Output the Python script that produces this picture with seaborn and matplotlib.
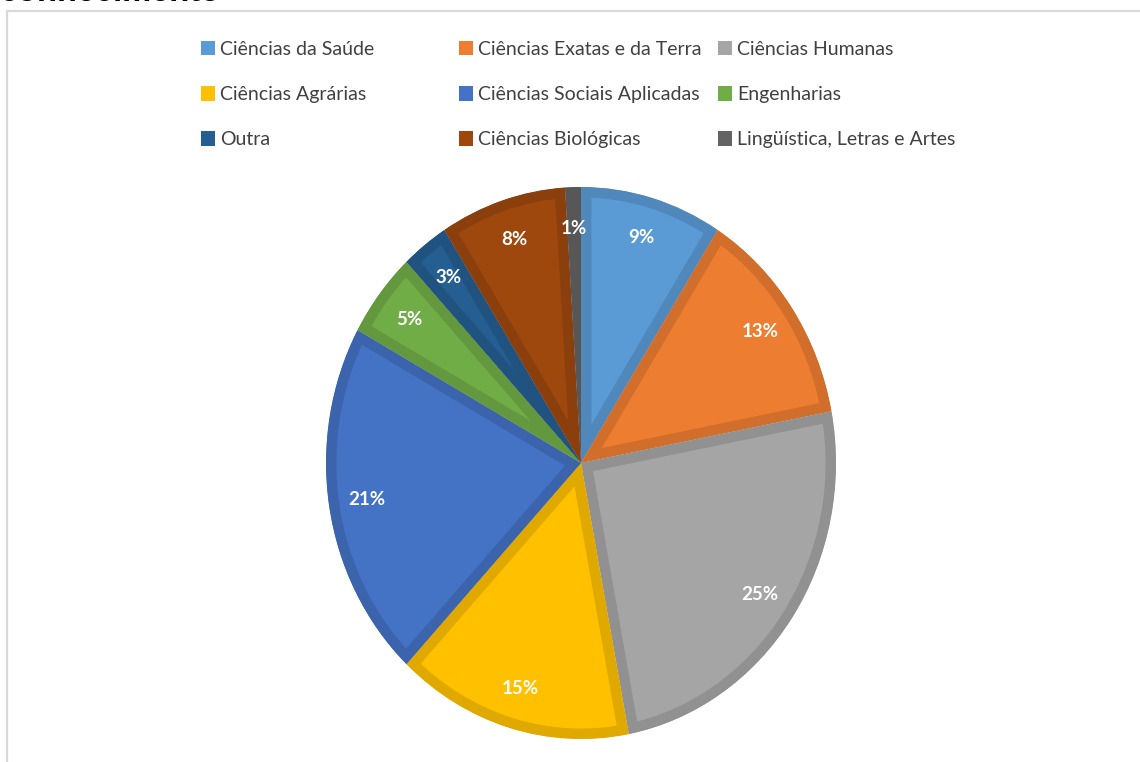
import numpy as np
import matplotlib.pyplot as plt
import matplotlib.colors as mcolors
from matplotlib.patches import Patch
import seaborn as sns

areas = ['Ciências da Saúde', 'Ciências Exatas e da Terra', 'Ciências Humanas',
         'Ciências Agrárias', 'Ciências Sociais Aplicadas', 'Engenharias',
         'Outra', 'Ciências Biológicas', 'Lingüística, Letras e Artes']
percentuais = [9, 13, 25, 15, 21, 5, 3, 8, 1]
cores = ['#5B9BD5', '#ED7D31', '#A5A5A5', '#FFC000', '#4472C4', '#70AD47',
         '#255E91', '#9E480E', '#636363']

sns.set_theme(style='white')
plt.rcParams['font.family'] = ['Lato', 'DejaVu Sans']

fig = plt.figure(figsize=(11.4, 7.62), dpi=100)
W, H = 1140, 762

# moldura cinza do grafico (cortada na imagem original)
fig.add_artist(plt.Line2D([7 / W, 7 / W], [0, 1 - 11 / H], color='#d9d9d9', lw=1.6))
fig.add_artist(plt.Line2D([7 / W, 1], [1 - 11 / H, 1 - 11 / H], color='#d9d9d9', lw=1.6))

# titulo cortado no topo
fig.text(0.0, 1 - 1 / H, 'conhecimento', fontsize=23.5, fontweight='bold',
         family=['Liberation Sans', 'DejaVu Sans'], color='black', va='baseline', ha='left')

ax = fig.add_axes([326 / W, 23 / H, 510 / W, 552 / H])
wedges, _ = ax.pie(percentuais, colors=cores, startangle=90, counterclock=False,
                   radius=1, wedgeprops=dict(linewidth=0))
ax.set_aspect('auto')
ax.set_xlim(-1, 1)
ax.set_ylim(-1, 1)
ax.axis('off')

# borda interna mais escura em cada fatia (traco recortado pela propria fatia)
for w, c in zip(wedges, cores):
    escuro = tuple(v * 0.88 for v in mcolors.to_rgb(c))
    w.set_edgecolor(escuro)
    w.set_linewidth(15)
    w.set_clip_on(True)
    w.set_clip_path(w)

# rotulos de porcentagem
acum = np.cumsum([0] + percentuais)
for i, p in enumerate(percentuais):
    meio = np.deg2rad(90 - 360 * (acum[i] + p / 2) / 100)
    r = 0.85
    ax.text(r * np.cos(meio), r * np.sin(meio), f'{p}%', ha='center', va='center',
            color='white', fontsize=13.5, fontweight='bold')

# legenda: tres colunas de largura igual, preenchidas por linha
handles = [Patch(facecolor=c, edgecolor='none') for c in cores]
colunas_x = [201, 459, 718]
for j, x0 in enumerate(colunas_x):
    idx = [j, j + 3, j + 6]
    leg = fig.legend([handles[i] for i in idx], [areas[i] for i in idx],
                     loc='upper left', bbox_to_anchor=(x0 / W, 1 - 41 / H),
                     frameon=False, fontsize=14, handlelength=0.7, handleheight=0.75,
                     handletextpad=0.3, labelspacing=1.45, borderpad=0, borderaxespad=0)
    for t in leg.get_texts():
        t.set_color('#404040')

fig.savefig('out.png', dpi=100)
